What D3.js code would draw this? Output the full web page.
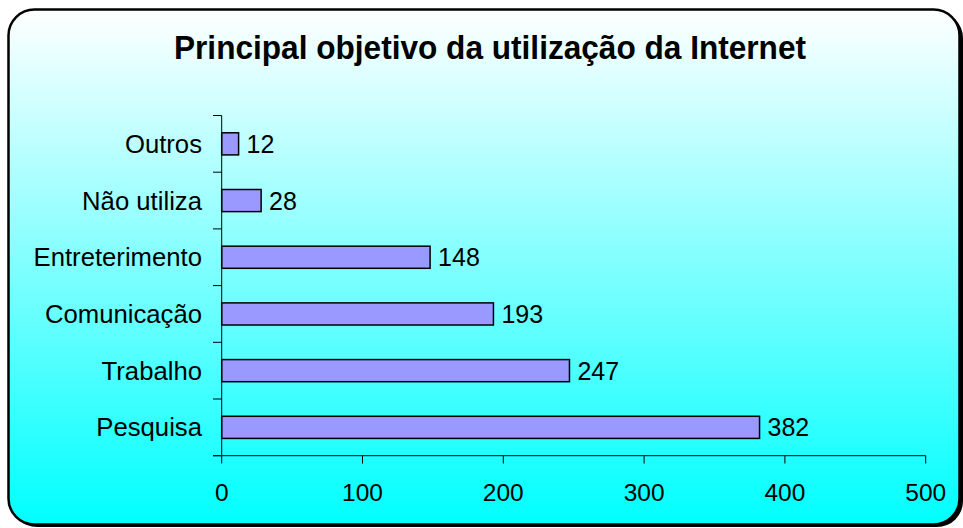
<!DOCTYPE html>
<html>
<head>
<meta charset="utf-8">
<script src="https://cdn.jsdelivr.net/npm/d3@7"></script>
<style>
  body { margin: 0; background: #fff; }
  text { font-family: "Liberation Sans", Arial, sans-serif; fill: #000; }
</style>
</head>
<body>
<div id="chart"></div>
<script>
// data
var categories = ['Pesquisa', 'Trabalho', 'Comunicação', 'Entreterimento', 'Não utiliza', 'Outros'];
var values = [382, 247, 193, 148, 28, 12];
var xTicks = [0, 100, 200, 300, 400, 500];
var title = 'Principal objetivo da utilização da Internet';

window.onload = function () {
    const width = 963;
    const height = 528;

    var svg = d3.select('#chart').append('svg')
        .attr('width', width)
        .attr('height', height);

    var defs = svg.append('defs');
    var grad = defs.append('linearGradient')
        .attr('id', 'bg').attr('x1', 0).attr('y1', 0).attr('x2', 0).attr('y2', 1);
    grad.append('stop').attr('offset', '0%').attr('stop-color', '#ffffff');
    grad.append('stop').attr('offset', '100%').attr('stop-color', '#00ffff');

    // frame + shadow
    svg.append('rect')
        .attr('x', 11).attr('y', 12).attr('width', 952).attr('height', 515)
        .attr('rx', 26).attr('fill', '#000');
    svg.append('rect')
        .attr('x', 8.5).attr('y', 9.5).attr('width', 951).attr('height', 515)
        .attr('rx', 26).attr('fill', 'url(#bg)')
        .attr('stroke', '#000').attr('stroke-width', 2.5);

    // title
    svg.append('text')
        .attr('x', 490).attr('y', 59)
        .attr('text-anchor', 'middle')
        .attr('font-size', 34).attr('font-weight', 'bold')
        .attr('textLength', 632).attr('lengthAdjust', 'spacingAndGlyphs')
        .text(title);

    // scales
    var x = d3.scaleLinear().domain([0, 500]).range([221.7, 925.7]);
    var y = d3.scaleBand().domain(categories.slice().reverse()).range([115.5, 455.7]).paddingInner(0.61).paddingOuter(0.305);
    var yb = d3.scaleBand().domain(categories.slice().reverse()).range([115.5, 455.7]);

    var rows = categories.map(function (c, i) { return { cat: c, val: values[i] }; });

    // bars
    svg.selectAll('rect.bar').data(rows).enter().append('rect')
        .attr('class', 'bar')
        .attr('x', x(0))
        .attr('y', function (d) { return y(d.cat); })
        .attr('width', function (d) { return x(d.val) - x(0); })
        .attr('height', y.bandwidth())
        .attr('fill', '#9999ff')
        .attr('stroke', '#000').attr('stroke-width', 1.5);

    // value labels
    svg.selectAll('text.val').data(rows).enter().append('text')
        .attr('class', 'val')
        .attr('x', function (d) { return x(d.val) + 8; })
        .attr('y', function (d) { return y(d.cat) + y.bandwidth() / 2 + 9; })
        .attr('font-size', 25)
        .text(function (d) { return d.val; });

    // y axis
    svg.append('line')
        .attr('x1', x(0)).attr('x2', x(0))
        .attr('y1', 115.5).attr('y2', 455.7)
        .attr('stroke', '#000').attr('stroke-width', 1);
    var bounds = categories.map(function (c) { return yb(c); }).concat([455.7]);
    svg.selectAll('line.ytick').data(bounds).enter().append('line')
        .attr('class', 'ytick')
        .attr('x1', 213).attr('x2', x(0))
        .attr('y1', function (d) { return d; }).attr('y2', function (d) { return d; })
        .attr('stroke', '#000').attr('stroke-width', 1);
    svg.selectAll('text.ylab').data(categories).enter().append('text')
        .attr('class', 'ylab')
        .attr('x', 202)
        .attr('y', function (d) { return yb(d) + yb.bandwidth() / 2 + 9; })
        .attr('text-anchor', 'end')
        .attr('font-size', 25.7)
        .text(function (d) { return d; });

    // x axis
    svg.append('line')
        .attr('x1', 213).attr('x2', x(500))
        .attr('y1', 455.7).attr('y2', 455.7)
        .attr('stroke', '#000').attr('stroke-width', 1);
    svg.selectAll('line.xtick').data(xTicks).enter().append('line')
        .attr('class', 'xtick')
        .attr('x1', function (d) { return x(d); }).attr('x2', function (d) { return x(d); })
        .attr('y1', 455.7).attr('y2', 463.5)
        .attr('stroke', '#000').attr('stroke-width', 1);
    svg.selectAll('text.xlab').data(xTicks).enter().append('text')
        .attr('class', 'xlab')
        .attr('x', function (d) { return x(d); })
        .attr('y', 501)
        .attr('text-anchor', 'middle')
        .attr('font-size', 24.5)
        .text(function (d) { return d; });
};
</script>
</body>
</html>
